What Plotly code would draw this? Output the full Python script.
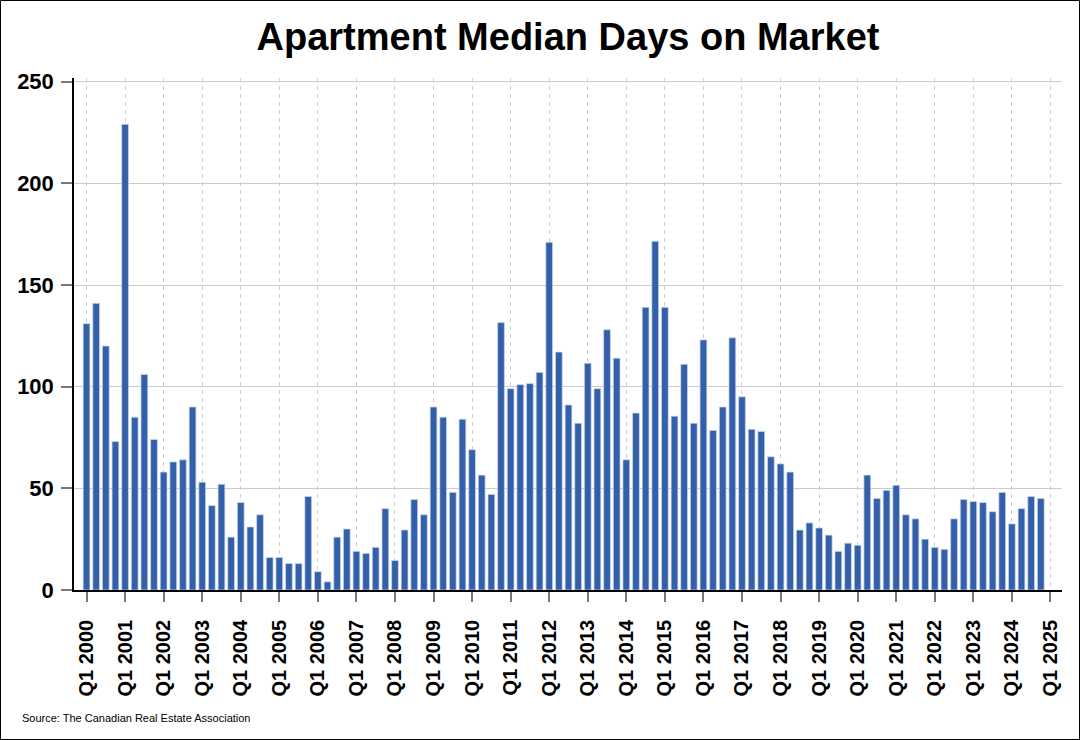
import plotly.graph_objects as go

years = list(range(2000, 2025))
quarters = [f"Q{q} {y}" for y in years for q in (1, 2, 3, 4)]
axis_categories = quarters + ["Q1 2025"]
tick_labels = [f"Q1 {y}" for y in range(2000, 2026)]

days_on_market = [
    131, 141, 120, 73,      # 2000
    229, 85, 106, 74,       # 2001
    58, 63, 64, 90,         # 2002
    53, 41.5, 52, 26,       # 2003
    43, 31, 37, 16,         # 2004
    16, 13, 13, 46,         # 2005
    9, 4, 26, 30,           # 2006
    19, 18, 21, 40,         # 2007
    14.5, 29.5, 44.5, 37,   # 2008
    90, 85, 48, 84,         # 2009
    69, 56.5, 47, 131.5,    # 2010
    99, 101, 101.5, 107,    # 2011
    171, 117, 91, 82,       # 2012
    111.5, 99, 128, 114,    # 2013
    64, 87, 139, 171.5,     # 2014
    139, 85.5, 111, 82,     # 2015
    123, 78.5, 90, 124,     # 2016
    95, 79, 78, 65.5,       # 2017
    62, 58, 29.5, 33,       # 2018
    30.5, 27, 19, 23,       # 2019
    22, 56.5, 45, 49,       # 2020
    51.5, 37, 35, 25,       # 2021
    21, 20, 35, 44.5,       # 2022
    43.5, 43, 38.5, 48,     # 2023
    32.5, 40, 46, 45,       # 2024
]

W, H = 1080, 740
ML, MR, MT, MB = 74, 18, 78, 150
PW, PH = W - ML - MR, H - MT - MB

FONT = "Arial, Liberation Sans, sans-serif"

fig = go.Figure(
    go.Bar(
        x=quarters,
        y=days_on_market,
        width=0.7,
        marker=dict(color="#3460A9", line=dict(color="rgba(200,215,240,0.9)", width=0.8)),
        hoverinfo="x+y",
    )
)

fig.update_layout(
    width=W,
    height=H,
    margin=dict(l=ML, r=MR, t=MT, b=MB),
    plot_bgcolor="white",
    paper_bgcolor="white",
    showlegend=False,
    title=dict(
        text="<b>Apartment Median Days on Market</b>",
        font=dict(family=FONT, size=38, color="black"),
        x=0.5,
        xref="paper",
        xanchor="center",
        y=1 - 37 / H,
        yref="container",
        yanchor="middle",
    ),
    bargap=0.3,
)

fig.update_xaxes(
    type="category",
    categoryorder="array",
    categoryarray=axis_categories,
    range=[-1.3, 101.2],
    tickmode="array",
    tickvals=tick_labels,
    ticktext=tick_labels,
    tickangle=-90,
    tickfont=dict(family=FONT, size=20, color="black", weight="bold"),
    ticks="outside",
    ticklen=10,
    tickcolor="#777777",
    tickwidth=1.5,
    ticklabelstandoff=10,
    showline=True,
    linecolor="black",
    linewidth=1.5,
    showgrid=True,
    gridcolor="#d0d0d0",
    griddash="4px,4px",
    gridwidth=1,
    zeroline=False,
)

fig.update_yaxes(
    range=[0, 251.8],
    tickvals=[0, 50, 100, 150, 200, 250],
    tickfont=dict(family=FONT, size=22, color="black", weight="bold"),
    ticks="outside",
    ticklen=11,
    tickcolor="#777777",
    tickwidth=1.5,
    ticklabelstandoff=3,
    showline=True,
    linecolor="black",
    linewidth=1.5,
    showgrid=True,
    gridcolor="#cccccc",
    gridwidth=1,
    zeroline=False,
)

fig.add_annotation(
    text="Source: The Canadian Real Estate Association",
    xref="paper",
    yref="paper",
    x=(20 - ML) / PW,
    y=-(718 - (MT + PH)) / PH,
    xanchor="left",
    yanchor="middle",
    showarrow=False,
    font=dict(family=FONT, size=11, color="black"),
)

fig.add_shape(
    type="rect",
    xref="paper",
    yref="paper",
    x0=-(ML - 0.5) / PW,
    x1=1 + (MR - 0.5) / PW,
    y0=-(MB - 0.5) / PH,
    y1=1 + (MT - 0.5) / PH,
    line=dict(color="black", width=1),
    fillcolor="rgba(0,0,0,0)",
    layer="above",
)

fig.write_html("out.html")
